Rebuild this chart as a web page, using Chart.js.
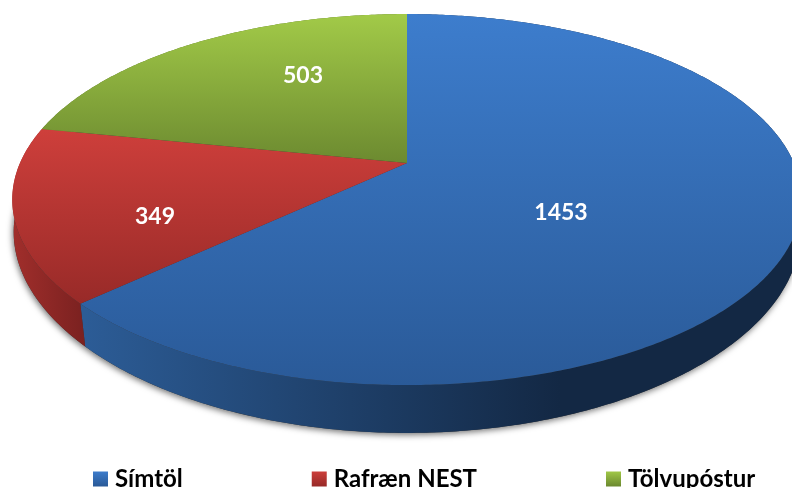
<!DOCTYPE html>
<html>
<head>
<meta charset="utf-8">
<style>
  html, body { margin: 0; padding: 0; background: #fff; overflow: hidden; }
</style>
<script src="https://cdn.jsdelivr.net/npm/chart.js@4"></script>
</head>
<body>
<canvas id="myChart" width="792" height="488"></canvas>
<script>
var categories = ['Símtöl', 'Rafræn NEST', 'Tölvupóstur'];
var seriesValues = [1453, 349, 503];

var topColors = ['#3D7DCD', '#CE3F3B', '#A2CA48'];
var bottomColors = ['#2A5A98', '#982A28', '#6C8A30'];
var wallStart = ['#2C5C96', '#A02E2B', '#6C8A30'];
var wallEnd = ['#132844', '#7A2120', '#55701F'];
var labelCenters = [[561, 213], [155, 217], [303, 76]];

// tilted disc: the pie's angles go through a perspective map
var disc = { cx: 407, cy: 163, a: 387, b: 178.3, c: -0.197 };

function project(angle) {
  var u = Math.cos(angle), v = Math.sin(angle);
  var w = 1 + disc.c * v;
  return [disc.cx + disc.a * u / w, disc.cy + disc.b * v / w];
}

function lower(p) {
  var dy = p[1] - disc.cy;
  var sx = 1 - 0.015 * Math.max(0, dy / 142);
  return [disc.cx + (p[0] - disc.cx) * sx, p[1] + 34 + 0.0625 * dy];
}

function rim(start, end) {
  var pts = [];
  var n = Math.ceil(Math.abs(end - start) / 0.01);
  for (var i = 0; i <= n; i++) pts.push(project(start + (end - start) * i / n));
  return pts;
}

function trace(ctx, pts) {
  pts.forEach(function (p) { ctx.lineTo(p[0], p[1]); });
}

var pie3d = {
  id: 'pie3d',
  beforeDatasetsDraw: function (chart) {
    var ctx = chart.ctx;
    var arcs = chart.getDatasetMeta(0).data;

    // soft shadow under the whole disc
    ctx.save();
    ctx.shadowColor = 'rgba(0,0,0,0.55)';
    ctx.shadowBlur = 6;
    ctx.shadowOffsetX = -1;
    ctx.shadowOffsetY = 2;
    ctx.fillStyle = '#333';
    ctx.beginPath();
    trace(ctx, rim(0, Math.PI * 2).map(lower));
    ctx.closePath();
    ctx.fill();
    ctx.restore();

    // side walls
    arcs.forEach(function (arc, i) {
      var pts = rim(arc.startAngle, arc.endAngle);
      var low = pts.map(lower);
      var g = ctx.createLinearGradient(i === 0 ? 85 : 14, 0, i === 0 ? 560 : 85, 0);
      g.addColorStop(0, wallStart[i]);
      g.addColorStop(1, wallEnd[i]);
      ctx.fillStyle = g;
      ctx.beginPath();
      trace(ctx, pts.concat(low.slice().reverse()));
      ctx.closePath();
      ctx.fill();
    });

    // top faces
    arcs.forEach(function (arc, i) {
      var pts = rim(arc.startAngle, arc.endAngle);
      var ys = pts.map(function (p) { return p[1]; }).concat(disc.cy);
      var g = ctx.createLinearGradient(0, Math.min.apply(null, ys), 0, Math.max.apply(null, ys));
      g.addColorStop(0, topColors[i]);
      g.addColorStop(1, bottomColors[i]);
      ctx.fillStyle = g;
      ctx.beginPath();
      ctx.moveTo(disc.cx, disc.cy);
      trace(ctx, pts);
      ctx.closePath();
      ctx.fill();
    });

    // value labels
    ctx.save();
    ctx.fillStyle = '#fff';
    ctx.font = 'bold 23px Lato';
    ctx.textAlign = 'center';
    ctx.textBaseline = 'middle';
    seriesValues.forEach(function (val, i) {
      ctx.fillText(String(val), labelCenters[i][0], labelCenters[i][1]);
    });
    ctx.restore();
    return false;
  },
  afterLayout: function (chart) {
    // one row running wider than the page, its text touching the bottom edge
    var legend = chart.legend;
    var pad = legend.options.labels.padding;
    legend.left = 98 - pad;
    legend.right = 1200;
    legend.top = 467 - pad;
    legend.bottom = 488;
  }
};

var ctx = document.getElementById('myChart').getContext('2d');
var myChart = new Chart(ctx, {
  type: 'pie',
  data: {
    labels: categories,
    datasets: [{
      data: seriesValues,
      backgroundColor: topColors,
      borderWidth: 0
    }]
  },
  options: {
    responsive: false,
    animation: false,
    plugins: {
      tooltip: { enabled: false },
      legend: {
        position: 'bottom',
        align: 'start',
        labels: {
          boxWidth: 5,
          boxHeight: 5,
          padding: 134,
          color: '#000',
          font: { family: 'Lato', weight: 'bold', size: 24 },
          generateLabels: function (chart) {
            return categories.map(function (name, i) {
              var g = chart.ctx.createLinearGradient(0, 471, 0, 486);
              g.addColorStop(0, topColors[i]);
              g.addColorStop(1, bottomColors[i]);
              return { text: name, fillStyle: g, strokeStyle: g, lineWidth: 10, index: i, hidden: false };
            });
          }
        }
      }
    }
  },
  plugins: [pie3d]
});
</script>
</body>
</html>
